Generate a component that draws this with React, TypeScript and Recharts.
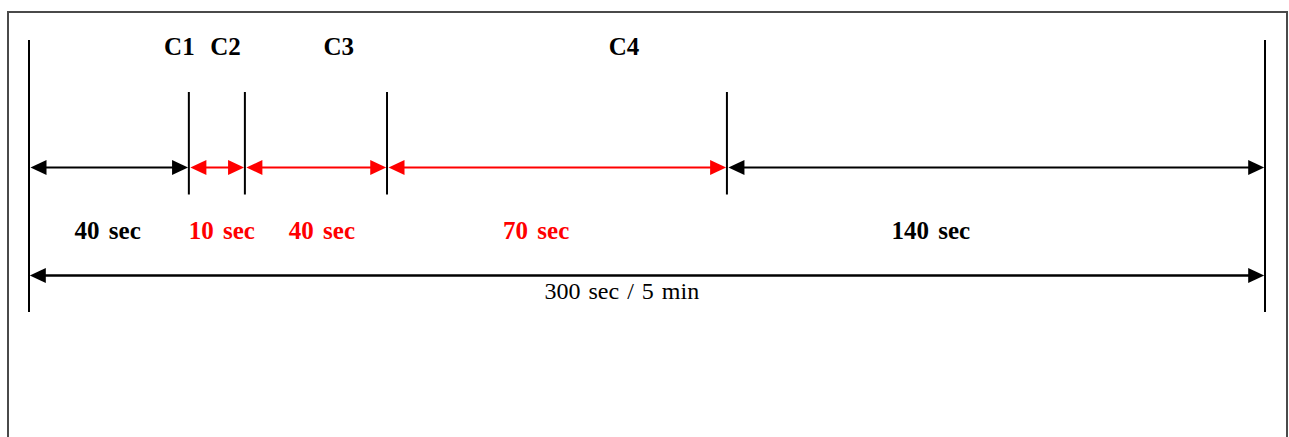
import React from 'react';
import { LineChart, XAxis, YAxis, ReferenceLine, ReferenceDot } from 'recharts';

// where each boundary is drawn on the 0–300 s axis (the sketch is not to scale)
const boundaryAt = [0, 38.8, 52.4, 86.9, 169.4, 300];
const phaseNames = ['C1', 'C2', 'C3', 'C4'];
const phaseLabelAt = [36.5, 47.7, 75.2, 144.4];
const segmentLabels = ['40 sec', '10 sec', '40 sec', '70 sec', '140 sec'];
const segmentLabelAt = [19.1, 46.8, 71.1, 123.1, 218.9];
const totalLabel = '300 sec / 5 min';
const totalLabelAt = 143.9;

// styling
const segmentColors = ['#000000', '#ff0000', '#ff0000', '#ff0000', '#000000'];
const FONT = '"Liberation Serif", "Times New Roman", serif';

// vertical layout, in chart units (y axis = 0..437, top down)
const ROW = {
  phaseText: 55,
  tickTop: 92,
  tickBottom: 194.5,
  outerTop: 40,
  outerBottom: 312,
  segment: 167.5,
  segmentText: 239,
  total: 275.5,
  totalText: 299,
};

const W = 1289;
const H = 437;

const Arrow = (props: any) => {
  const { x1, y1, x2, color, width, head, half, inset } = props;
  const a = x1 + inset[0];
  const b = x2 - inset[1];
  return (
    <g>
      <line x1={a + 4} y1={y1} x2={b - 4} y2={y1} stroke={color} strokeWidth={width} />
      <polygon points={`${a},${y1} ${a + head},${y1 - half} ${a + head},${y1 + half}`} fill={color} />
      <polygon points={`${b},${y1} ${b - head},${y1 - half} ${b - head},${y1 + half}`} fill={color} />
    </g>
  );
};

const TextMark = (props: any) => {
  const { cx, cy, text, color, bold, size, spacing } = props;
  return (
    <text
      x={cx}
      y={cy}
      textAnchor="middle"
      fill={color}
      fontFamily={FONT}
      fontWeight={bold ? 'bold' : 'normal'}
      fontSize={size}
      style={{ wordSpacing: spacing }}
    >
      {text}
    </text>
  );
};

const chartData = boundaryAt.map((x) => ({ x, y: ROW.segment }));

export default function App() {
  const last = boundaryAt.length - 1;
  return (
    <div style={{ position: 'fixed', left: 0, top: 0, width: W, height: H, background: '#fff', overflow: 'hidden' }}>
      <div
        style={{
          position: 'absolute',
          left: 7,
          top: 11,
          width: 1277,
          height: 440,
          borderTop: '2px solid #4a4a4a',
          borderLeft: '2px solid #4a4a4a',
          borderRight: '2px solid #4a4a4a',
        }}
      />
      <div style={{ position: 'absolute', left: 0, top: 0 }}>
        <LineChart width={W} height={H} data={chartData} margin={{ top: 0, right: 24, bottom: 0, left: 29 }}>
          <XAxis type="number" dataKey="x" domain={[0, 300]} hide allowDataOverflow />
          <YAxis type="number" dataKey="y" domain={[0, H]} reversed hide allowDataOverflow />

          {/* boundary ticks */}
          {boundaryAt.map((x, i) => {
            const outer = i === 0 || i === last;
            return (
              <ReferenceLine
                key={`tick-${i}`}
                segment={[
                  { x, y: outer ? ROW.outerTop : ROW.tickTop },
                  { x, y: outer ? ROW.outerBottom : ROW.tickBottom },
                ]}
                stroke="#000"
                strokeWidth={2}
              />
            );
          })}

          {/* segment arrows */}
          {segmentLabels.map((_, i) => (
            <ReferenceLine
              key={`seg-${i}`}
              segment={[
                { x: boundaryAt[i], y: ROW.segment },
                { x: boundaryAt[i + 1], y: ROW.segment },
              ]}
              shape={(p: any) => (
                <Arrow {...p} color={segmentColors[i]} width={2.2} head={16} half={7.5} inset={[1.5, 0.8]} />
              )}
            />
          ))}

          {/* total arrow */}
          <ReferenceLine
            segment={[
              { x: boundaryAt[0], y: ROW.total },
              { x: boundaryAt[last], y: ROW.total },
            ]}
            shape={(p: any) => <Arrow {...p} color="#000" width={2.6} head={16} half={7.5} inset={[0.8, 0.8]} />}
          />

          {phaseNames.map((name, i) => (
            <ReferenceDot
              key={`ph-${i}`}
              x={phaseLabelAt[i]}
              y={ROW.phaseText}
              shape={(p: any) => <TextMark {...p} text={name} color="#000" bold size={25} spacing={0} />}
            />
          ))}

          {segmentLabels.map((label, i) => (
            <ReferenceDot
              key={`sl-${i}`}
              x={segmentLabelAt[i]}
              y={ROW.segmentText}
              shape={(p: any) => (
                <TextMark {...p} text={label} color={segmentColors[i]} bold size={25} spacing={3} />
              )}
            />
          ))}

          <ReferenceDot
            x={totalLabelAt}
            y={ROW.totalText}
            shape={(p: any) => <TextMark {...p} text={totalLabel} color="#000" size={24} spacing={2} />}
          />
        </LineChart>
      </div>
    </div>
  );
}
